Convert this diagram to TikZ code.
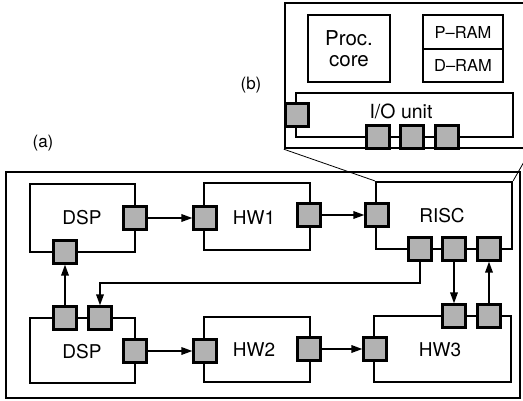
\documentclass[tikz,border=0pt]{standalone}
\usepackage{fontspec}
\setmainfont{TeX Gyre Heros}
\usetikzlibrary{arrows.meta}
\begin{document}
\begin{tikzpicture}[x=1pt,y=-1pt,
  box/.style={draw, line width=2.2pt, inner sep=0pt},
  port/.style={draw, line width=2.2pt, fill=gray!60, minimum size=23pt, inner sep=0pt},
  arr/.style={line width=1.7pt, -{Triangle[length=11pt,width=7.5pt]}},
  lbl/.style={inner sep=0pt, font=\fontsize{19}{20}\selectfont},
  proj/.style={line width=0.8pt}]
\useasboundingbox (0,0) rectangle (523,400);
\clip (0,0) rectangle (523,400);
% frames
\node[box, line width=2.4pt, minimum width=514pt, minimum height=226pt] (frameA) at (263,285) {};
\node[box, line width=2.4pt, minimum width=245pt, minimum height=145pt] (frameB) at (407.5,75.5) {};
% (b) inset
\node[box, minimum width=82pt, minimum height=67pt, align=center, font=\fontsize{20.5}{20.5}\selectfont] (proc) at (349,48.5) {Proc.\\core};
\node[box, minimum width=80pt, minimum height=34pt, font=\fontsize{16.5}{16}\selectfont] (pram) at (463,32) {P–RAM};
\node[box, minimum width=80pt, minimum height=33pt, font=\fontsize{16.5}{16}\selectfont] (dram) at (463,65.5) {D–RAM};
\node[box, minimum width=217pt, minimum height=44pt] (io) at (404.5,115) {};
\node[inner sep=0pt, font=\fontsize{19.5}{20}\selectfont] (iol) at (401,111) {I/O unit};
\node[port] (bp1) at (297,115) {};
\node[port] (bp2) at (378,137) {};
\node[port] (bp3) at (412,137) {};
\node[port] (bp4) at (447,137) {};
% labels
\node[inner sep=0pt, font=\fontsize{17}{18}\selectfont] (la) at (43,143) {(a)};
\node[inner sep=0pt, font=\fontsize{17}{18}\selectfont] (lb) at (251,85) {(b)};
% boxes of (a)
\node[box, minimum width=105pt, minimum height=68pt] (dsp1) at (82.5,218) {};
\node[box, minimum width=106pt, minimum height=67pt] (hw1) at (257,216.5) {};
\node[box, minimum width=136pt, minimum height=67pt] (risc) at (444,215.5) {};
\node[box, minimum width=105pt, minimum height=65pt] (dsp2) at (82.5,350.5) {};
\node[box, minimum width=106pt, minimum height=65pt] (hw2) at (257,349.5) {};
\node[box, minimum width=137pt, minimum height=66pt] (hw3) at (442.5,349) {};
\node[lbl] (ldsp1) at (82,218) {DSP};
\node[lbl] (lhw1) at (254,218) {HW1};
\node[lbl] (lrisc) at (442,216) {RISC};
\node[lbl] (ldsp2) at (82,352) {DSP};
\node[lbl] (lhw2) at (254,350) {HW2};
\node[lbl] (lhw3) at (440,350) {HW3};
% projection lines
\draw[proj] (frameB.south west) -- (risc.north west);
\draw[proj] (frameB.south east) -- (risc.north east);
% ports
\node[port] (p1) at (135,218) {};
\node[port] (p2) at (65,252) {};
\node[port] (p3) at (205,218) {};
\node[port] (p4) at (309,215) {};
\node[port] (p5) at (377,215) {};
\node[port] (p6) at (420,249) {};
\node[port] (p7) at (454,249) {};
\node[port] (p8) at (489,249) {};
\node[port] (p9) at (65,318) {};
\node[port] (p10) at (100,318) {};
\node[port] (p11) at (135,351) {};
\node[port] (p12) at (205,351) {};
\node[port] (p13) at (309,349) {};
\node[port] (p14) at (375,349) {};
\node[port] (p15) at (454,316) {};
\node[port] (p16) at (489,316) {};
% connectors
\coordinate (bend) at (100,283);
\draw[arr] (p1) -- (p3);
\draw[arr] (p4) -- (p5);
\draw[arr] (p11) -- (p12);
\draw[arr] (p13) -- (p14);
\draw[arr] (p9) -- (p2);
\draw[arr] (p7) -- (p15);
\draw[arr] (p16) -- (p8);
\draw[arr] (p6.south) |- (bend) -- (p10.north);
\end{tikzpicture}
\end{document}
